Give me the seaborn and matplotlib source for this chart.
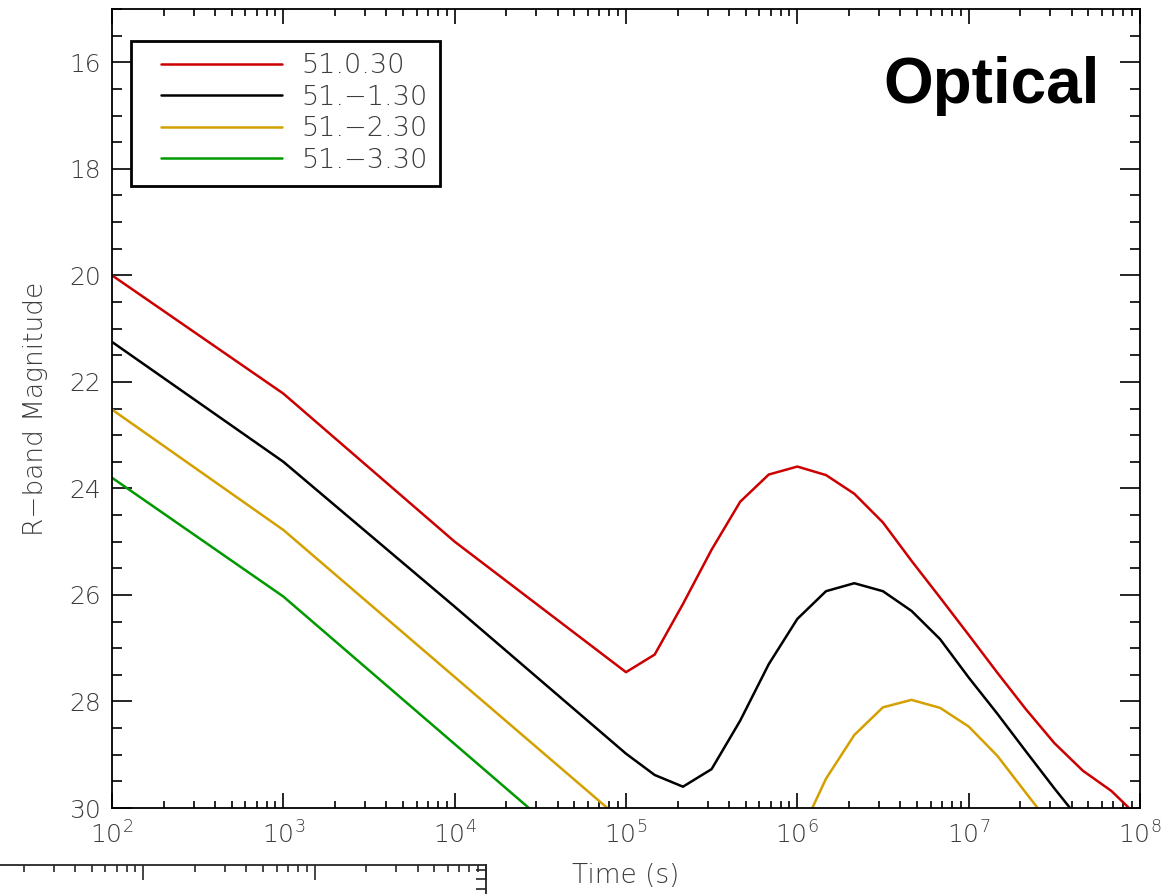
import numpy as np
import pandas as pd
import matplotlib
matplotlib.use("Agg")
import matplotlib.pyplot as plt
import seaborn as sns
from matplotlib.ticker import LogLocator, MultipleLocator, NullFormatter
from matplotlib.legend_handler import HandlerLine2D

sns.set_style("ticks")
plt.rcParams["font.family"] = ["DejaVu Sans"]
plt.rcParams["font.weight"] = "light"  # the original uses a thin plotting font

# R-band light curves (time in s, magnitude)
red_time = [1e2, 1e3, 1e4, 1e5, 1.47e5, 2.15e5, 3.16e5, 4.64e5, 6.81e5, 1e6, 1.47e6,
            2.15e6, 3.16e6, 4.64e6, 6.81e6, 1e7, 1.47e7, 2.15e7, 3.16e7, 4.64e7, 6.81e7, 1e8]
red_mag = [20.0, 22.22, 25.0, 27.45, 27.12, 26.17, 25.15, 24.25, 23.74, 23.59, 23.75,
           24.10, 24.64, 25.36, 26.05, 26.75, 27.46, 28.14, 28.78, 29.30, 29.68, 30.2]

black_time = [1e2, 1e3, 1e4, 1e5, 1.47e5, 2.15e5, 3.16e5, 4.64e5, 6.81e5, 1e6, 1.47e6,
              2.15e6, 3.16e6, 4.64e6, 6.81e6, 1e7, 1.47e7, 2.15e7, 3.16e7, 4.64e7]
black_mag = [21.25, 23.5, 26.22, 28.98, 29.38, 29.6, 29.27, 28.36, 27.30, 26.45, 25.93,
             25.78, 25.93, 26.30, 26.83, 27.55, 28.23, 28.93, 29.63, 30.3]

yellow_time = [1e2, 1e3, 1e4, 1e5, 1e6, 1.47e6, 2.15e6, 3.16e6, 4.64e6, 6.81e6, 1e7,
               1.47e7, 2.15e7, 3.16e7]
yellow_mag = [22.52, 24.78, 27.54, 30.3, 30.6, 29.45, 28.63, 28.11, 27.97, 28.12, 28.47,
              29.02, 29.71, 30.4]

green_time = [1e2, 1e3, 1e4, 1e5]
green_mag = [23.8, 26.03, 28.8, 31.57]

labels = ["51.0.30", "51.\u22121.30", "51.\u22122.30", "51.\u22123.30"]
colors = ["#cc0000", "#000000", "#d4a000", "#009900"]
x_ticks = [1e2, 1e3, 1e4, 1e5, 1e6, 1e7, 1e8]
y_ticks = [16, 18, 20, 22, 24, 26, 28, 30]

times = [red_time, black_time, yellow_time, green_time]
mags = [red_mag, black_mag, yellow_mag, green_mag]

frames = []
for lab, t, m in zip(labels, times, mags):
    frames.append(pd.DataFrame({"time": t, "mag": m, "model": lab}))
df = pd.concat(frames, ignore_index=True)

text_col = "#3c3c3c"
W, H = 1176, 894

fig = plt.figure(figsize=(W / 100, H / 100), dpi=100)
fig.patch.set_facecolor("white")
ax = fig.add_axes([112 / W, 86 / H, 1028 / W, 799 / H])

sns.lineplot(data=df, x="time", y="mag", hue="model", hue_order=labels,
             palette=dict(zip(labels, colors)), estimator=None, sort=False,
             linewidth=1.8, ax=ax)

ax.set_xscale("log")
ax.set_xlim(1e2, 1e8)
ax.set_ylim(30, 15)
ax.set_xticks(x_ticks)
ax.xaxis.set_minor_locator(LogLocator(base=10, subs=np.arange(2, 10), numticks=20))
ax.xaxis.set_minor_formatter(NullFormatter())
ax.set_yticks(y_ticks)
ax.yaxis.set_minor_locator(MultipleLocator(0.5))

# IDL-like inward ticks on all four sides
ax.tick_params(which="both", direction="in", top=True, right=True, width=1.2,
               color="black", labelsize=18, labelcolor=text_col)
ax.tick_params(axis="x", which="major", length=10.8, pad=10)
ax.tick_params(axis="x", which="minor", length=5)
ax.tick_params(axis="y", which="major", length=14.4, pad=8)
ax.tick_params(axis="y", which="minor", length=7.2)
for s in ax.spines.values():
    s.set_linewidth(1.3)
    s.set_color("black")

ax.set_xlabel("Time (s)", fontsize=19, color=text_col, fontweight="light", labelpad=10)
ax.set_ylabel("R\u2212band Magnitude", fontsize=19, color=text_col,
              fontweight="light", labelpad=15)

ax.text(0.961, 0.882, "Optical", transform=ax.transAxes, ha="right", va="baseline",
        fontsize=46, fontweight="bold", color="black",
        family=["Liberation Sans", "DejaVu Sans"])


# legend line starts a bit to the right of the box edge
class ShiftedLine(HandlerLine2D):
    def create_artists(self, legend, orig_handle, xdescent, ydescent, width,
                       height, fontsize, trans):
        shift = 0.123 * width
        return super().create_artists(legend, orig_handle, xdescent - shift, ydescent,
                                      width - shift, height, fontsize, trans)


handles, labs = ax.get_legend_handles_labels()
leg = ax.legend(handles, labs, loc="upper left", bbox_to_anchor=(0.0189, 0.9603),
                borderaxespad=0, frameon=True, fancybox=False, framealpha=1,
                edgecolor="black", fontsize=19.5, handlelength=5.1, handletextpad=0.7,
                labelspacing=0.24, borderpad=0.47,
                handler_map={type(handles[0]): ShiftedLine()})
leg.get_frame().set_linewidth(2)
for t in leg.get_texts():
    t.set_color(text_col)

# top edge of the next panel, cut off at the bottom of the image
ax2 = fig.add_axes([-542 / W, (H - 865) / H - 799 / H, 1028 / W, 799 / H])
ax2.set_xscale("log")
ax2.set_xlim(1e2, 1e8)
ax2.set_ylim(0, 83.5)
ax2.set_xticks(x_ticks)
ax2.xaxis.set_minor_locator(LogLocator(base=10, subs=np.arange(2, 10), numticks=20))
ax2.yaxis.set_major_locator(MultipleLocator(10))
ax2.yaxis.set_minor_locator(MultipleLocator(1))
ax2.tick_params(which="both", direction="in", top=True, right=True, width=1.2,
                labelbottom=False, labelleft=False)
ax2.tick_params(axis="x", which="major", length=10.8)
ax2.tick_params(axis="x", which="minor", length=5)
ax2.tick_params(axis="y", which="major", length=14.4)
ax2.tick_params(axis="y", which="minor", length=7.2)
for s in ax2.spines.values():
    s.set_linewidth(1.3)

fig.savefig("out.png", dpi=100)
